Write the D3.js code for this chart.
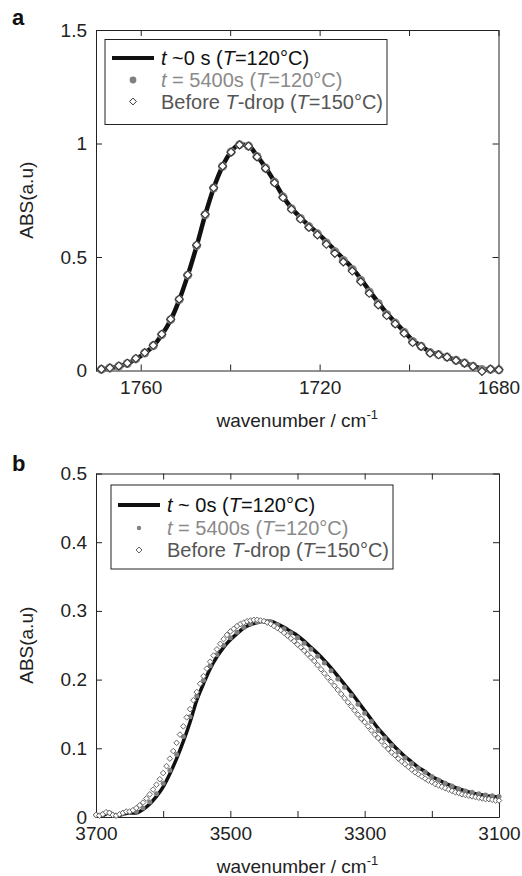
<!DOCTYPE html>
<html>
<head>
<meta charset="utf-8">
<script src="https://cdn.jsdelivr.net/npm/d3@7"></script>
<style>
  body { margin: 0; background: #fff; }
  svg { display: block; font-family: "Liberation Sans", Arial, sans-serif; }
</style>
</head>
<body>
<div id="chart"></div>
<script>
// ---- panel a : C=O band ----
const wnA = [1768.8, 1766.9, 1764.9, 1763.0, 1761.1, 1759.1, 1757.2, 1755.3, 1753.3, 1751.4,
  1749.5, 1747.5, 1745.6, 1743.7, 1741.7, 1739.8, 1737.9, 1735.9, 1734.0, 1732.1,
  1730.1, 1728.2, 1726.3, 1724.3, 1722.4, 1720.5, 1718.5, 1716.6, 1714.7, 1712.7,
  1710.8, 1708.9, 1706.9, 1705.0, 1703.1, 1701.1, 1699.2, 1697.3, 1695.3, 1693.4,
  1691.5, 1689.5, 1687.6, 1685.7, 1683.7, 1681.8, 1679.9];
const absA0 = [0.004, 0.010, 0.018, 0.030, 0.050, 0.076, 0.108, 0.156, 0.222, 0.310,
  0.418, 0.548, 0.684, 0.803, 0.900, 0.964, 0.996, 0.990, 0.945, 0.894,
  0.832, 0.768, 0.716, 0.674, 0.638, 0.606, 0.568, 0.530, 0.492, 0.451,
  0.404, 0.352, 0.300, 0.252, 0.213, 0.172, 0.133, 0.108, 0.082, 0.070,
  0.059, 0.045, 0.033, 0.020, 0.008, 0.004, 0.002];
const absA5400 = [0.005, 0.011, 0.019, 0.031, 0.051, 0.077, 0.109, 0.158, 0.224, 0.312,
  0.420, 0.550, 0.686, 0.804, 0.900, 0.963, 0.995, 0.989, 0.943, 0.892,
  0.830, 0.765, 0.713, 0.670, 0.634, 0.602, 0.562, 0.523, 0.485, 0.445,
  0.398, 0.346, 0.295, 0.247, 0.209, 0.168, 0.128, 0.107, 0.079, 0.070,
  0.059, 0.045, 0.033, 0.019, 0.004, 0.005, 0.003];
const absABefore = [0.006, 0.012, 0.020, 0.032, 0.053, 0.079, 0.111, 0.160, 0.226, 0.314,
  0.421, 0.553, 0.688, 0.805, 0.900, 0.962, 0.994, 0.988, 0.941, 0.890,
  0.827, 0.762, 0.710, 0.667, 0.630, 0.597, 0.556, 0.516, 0.478, 0.438,
  0.391, 0.340, 0.289, 0.242, 0.205, 0.164, 0.123, 0.106, 0.076, 0.069,
  0.059, 0.044, 0.032, 0.018, -0.004, 0.006, 0.003];
const xTicksA = [1760, 1740, 1720, 1700, 1680];
const xLabelsA = [1760, 1720, 1680];
const yTicksA = [0, 0.5, 1, 1.5];

// ---- panel b : O-H band ----
const wnB = [3700, 3690, 3680, 3670, 3660, 3650, 3640, 3630, 3620, 3610,
  3600, 3590, 3580, 3570, 3560, 3550, 3540, 3530, 3520, 3510,
  3500, 3490, 3480, 3470, 3460, 3450, 3440, 3430, 3420, 3410,
  3400, 3390, 3380, 3370, 3360, 3350, 3340, 3330, 3320, 3310,
  3300, 3290, 3280, 3270, 3260, 3250, 3240, 3230, 3220, 3210,
  3200, 3190, 3180, 3170, 3160, 3150, 3140, 3130, 3120, 3110, 3100];
const absB0 = [0.004, 0.002, 0.007, 0.001, 0.004, 0.006, 0.006, 0.011, 0.019, 0.030,
  0.044, 0.063, 0.085, 0.110, 0.138, 0.170, 0.194, 0.216, 0.233, 0.247,
  0.258, 0.267, 0.275, 0.280, 0.283, 0.285, 0.285, 0.281, 0.276, 0.270,
  0.264, 0.256, 0.247, 0.238, 0.228, 0.217, 0.205, 0.193, 0.181, 0.168,
  0.155, 0.142, 0.129, 0.118, 0.107, 0.097, 0.088, 0.080, 0.072, 0.066,
  0.059, 0.054, 0.049, 0.045, 0.041, 0.038, 0.035, 0.033, 0.031, 0.030, 0.029];
const absB5400 = [0.003, 0.004, 0.006, 0.002, 0.006, 0.007, 0.008, 0.013, 0.022, 0.034,
  0.049, 0.068, 0.091, 0.117, 0.146, 0.176, 0.199, 0.220, 0.236, 0.250,
  0.261, 0.269, 0.276, 0.281, 0.284, 0.285, 0.284, 0.280, 0.274, 0.268,
  0.261, 0.253, 0.244, 0.234, 0.224, 0.213, 0.201, 0.189, 0.177, 0.164,
  0.151, 0.139, 0.126, 0.115, 0.104, 0.095, 0.086, 0.078, 0.071, 0.065,
  0.059, 0.054, 0.049, 0.045, 0.041, 0.038, 0.036, 0.034, 0.032, 0.031, 0.030];
const wnBBefore = [3700, 3695, 3690, 3685, 3680, 3675, 3670, 3665, 3660, 3655,
  3650, 3645, 3640, 3635, 3630, 3625, 3620, 3615, 3610, 3605,
  3600, 3595, 3590, 3585, 3580, 3575, 3570, 3565, 3560, 3555,
  3550, 3545, 3540, 3535, 3530, 3525, 3520, 3515, 3510, 3505,
  3500, 3495, 3490, 3485, 3480, 3475, 3470, 3465, 3460, 3455,
  3450, 3445, 3440, 3435, 3430, 3425, 3420, 3415, 3410, 3405,
  3400, 3395, 3390, 3385, 3380, 3375, 3370, 3365, 3360, 3355,
  3350, 3345, 3340, 3335, 3330, 3325, 3320, 3315, 3310, 3305,
  3300, 3295, 3290, 3285, 3280, 3275, 3270, 3265, 3260, 3255,
  3250, 3245, 3240, 3235, 3230, 3225, 3220, 3215, 3210, 3205,
  3200, 3195, 3190, 3185, 3180, 3175, 3170, 3165, 3160, 3155,
  3150, 3145, 3140, 3135, 3130, 3125, 3120, 3115, 3110, 3105, 3100];
const absBBefore = [0.003, 0.002, 0.004, 0.007, 0.006, 0.003, 0.002, 0.004, 0.006, 0.008,
  0.008, 0.010, 0.013, 0.017, 0.021, 0.027, 0.033, 0.040, 0.047, 0.055,
  0.064, 0.074, 0.085, 0.096, 0.108, 0.120, 0.132, 0.145, 0.157, 0.170,
  0.182, 0.194, 0.205, 0.216, 0.226, 0.235, 0.244, 0.252, 0.259, 0.265,
  0.270, 0.274, 0.278, 0.281, 0.283, 0.285, 0.286, 0.287, 0.287, 0.286,
  0.285, 0.283, 0.281, 0.278, 0.275, 0.272, 0.268, 0.264, 0.260, 0.256,
  0.251, 0.247, 0.242, 0.237, 0.232, 0.227, 0.221, 0.215, 0.209, 0.203,
  0.197, 0.191, 0.185, 0.179, 0.173, 0.167, 0.161, 0.155, 0.149, 0.143,
  0.138, 0.132, 0.126, 0.120, 0.115, 0.110, 0.104, 0.099, 0.094, 0.090,
  0.085, 0.081, 0.077, 0.073, 0.069, 0.065, 0.062, 0.059, 0.056, 0.053,
  0.051, 0.048, 0.046, 0.044, 0.042, 0.040, 0.038, 0.036, 0.035, 0.033,
  0.032, 0.031, 0.030, 0.029, 0.028, 0.027, 0.026, 0.026, 0.025, 0.024, 0.024];
const xTicksB = [3700, 3600, 3500, 3400, 3300, 3200, 3100];
const xLabelsB = [3700, 3500, 3300, 3100];
const yTicksB = [0, 0.1, 0.2, 0.3, 0.4, 0.5];

// legend texts, [text, italic?]
const legendA = [
  [['t', 1], [' ~0 s (', 0], ['T', 1], ['=120°C)', 0]],
  [['t', 1], [' = 5400s (', 0], ['T', 1], ['=120°C)', 0]],
  [['Before ', 0], ['T', 1], ['-drop (', 0], ['T', 1], ['=150°C)', 0]],
];
const legendB = [
  [['t', 1], [' ~ 0s (', 0], ['T', 1], ['=120°C)', 0]],
  [['t', 1], [' = 5400s (', 0], ['T', 1], ['=120°C)', 0]],
  [['Before ', 0], ['T', 1], ['-drop (', 0], ['T', 1], ['=150°C)', 0]],
];

const W = 522, H = 876;
const FS = 19;

const svg = d3.select('#chart').append('svg').attr('width', W).attr('height', H);

const diamond = (s) => `M0,${-s}L${s},0L0,${s}L${-s},0Z`;

const drawPanel = (opt) => {
  const g = svg.append('g');
  const x = d3.scaleLinear().domain(opt.xDomain).range([opt.left, opt.right]);
  const y = d3.scaleLinear().domain(opt.yDomain).range([opt.bottom, opt.top]);

  // axes, ticks pointing inward
  const fmtX = (d) => (opt.xLabels.indexOf(d) > -1 ? d : '');
  const axes = [
    [d3.axisBottom(x).tickValues(opt.xTicks).tickFormat(fmtX), opt.bottom, 'x'],
    [d3.axisTop(x).tickValues(opt.xTicks).tickFormat(''), opt.top, 'x'],
    [d3.axisLeft(y).tickValues(opt.yTicks).tickFormat((d) => String(d)), opt.left, 'y'],
    [d3.axisRight(y).tickValues(opt.yTicks).tickFormat(''), opt.right, 'y'],
  ];
  axes.forEach(([ax, pos, k]) => {
    const a = g
      .append('g')
      .attr('transform', k === 'x' ? `translate(0,${pos})` : `translate(${pos},0)`)
      .call(ax.tickSizeInner(-6).tickSizeOuter(0).tickPadding(k === 'x' ? 10 : 9));
    a.select('.domain').attr('stroke', '#222');
    a.selectAll('.tick line').attr('stroke', '#222');
    a.selectAll('.tick text')
      .attr('font-size', FS)
      .attr('font-family', '"Liberation Sans", Arial, sans-serif')
      .attr('fill', '#222');
  });

  // t ~ 0 s line
  g.append('path')
    .datum(opt.wnLine.map((w, i) => [w, opt.line[i]]))
    .attr('fill', 'none')
    .attr('stroke', '#111')
    .attr('stroke-width', opt.lineW)
    .attr('stroke-linejoin', 'round')
    .attr('d', d3.line().x((d) => x(d[0])).y((d) => y(d[1])).curve(d3.curveMonotoneX));

  // t = 5400 s dots
  g.append('g')
    .selectAll('circle')
    .data(opt.wnDots.map((w, i) => [w, opt.dots[i]]))
    .enter()
    .append('circle')
    .attr('cx', (d) => x(d[0]))
    .attr('cy', (d) => y(d[1]))
    .attr('r', opt.dotR)
    .attr('fill', '#808080');

  // before T-drop diamonds
  g.append('g')
    .selectAll('path')
    .data(opt.wnDia.map((w, i) => [w, opt.dia[i]]))
    .enter()
    .append('path')
    .attr('transform', (d) => `translate(${x(d[0])},${y(d[1])})`)
    .attr('d', diamond(opt.diaS))
    .attr('fill', '#fff')
    .attr('stroke', opt.diaStroke)
    .attr('stroke-width', opt.diaW);

  // legend
  const lg = g.append('g');
  const L = opt.legend;
  lg.append('rect')
    .attr('x', L.x)
    .attr('y', L.y)
    .attr('width', L.w)
    .attr('height', L.h)
    .attr('fill', '#fff')
    .attr('stroke', '#222')
    .attr('stroke-width', 1);
  const colors = ['#111', '#8a8a8a', '#555'];
  L.rows.forEach((cy, i) => {
    if (i === 0) {
      lg.append('line')
        .attr('x1', L.x + 7).attr('x2', L.x + 49)
        .attr('y1', cy).attr('y2', cy)
        .attr('stroke', '#111').attr('stroke-width', 4);
    } else if (i === 1) {
      lg.append('circle').attr('cx', L.x + 28).attr('cy', cy).attr('r', opt.legDotR).attr('fill', '#808080');
    } else {
      lg.append('path')
        .attr('transform', `translate(${L.x + 28},${cy})`)
        .attr('d', diamond(opt.legDiaS))
        .attr('fill', '#fff')
        .attr('stroke', opt.diaStroke)
        .attr('stroke-width', 1);
    }
    const t = lg.append('text')
      .attr('x', L.x + 56)
      .attr('y', cy + 7)
      .attr('font-size', 20)
      .attr('fill', colors[i]);
    opt.legendText[i].forEach(([s, it]) => {
      t.append('tspan').attr('font-style', it ? 'italic' : 'normal').text(s);
    });
  });

  // axis titles
  const xl = g.append('text')
    .attr('x', (opt.left + opt.right) / 2)
    .attr('y', opt.bottom + 56)
    .attr('text-anchor', 'middle')
    .attr('font-size', FS)
    .attr('fill', '#222');
  xl.append('tspan').text('wavenumber / cm');
  xl.append('tspan').attr('font-size', 13).attr('dy', -8).text('-1');

  g.append('text')
    .attr('transform', `translate(33,${(opt.top + opt.bottom) / 2}) rotate(-90)`)
    .attr('text-anchor', 'middle')
    .attr('font-size', FS)
    .attr('fill', '#222')
    .text('ABS(a.u)');

  g.append('text')
    .attr('x', 12)
    .attr('y', opt.letterY)
    .attr('font-size', 22)
    .attr('font-weight', 'bold')
    .attr('fill', '#111')
    .text(opt.letter);
};

drawPanel({
  letter: 'a', letterY: 25,
  left: 96, right: 498.5, top: 30, bottom: 370.5,
  xDomain: [1770, 1680], yDomain: [0, 1.5],
  xTicks: xTicksA, xLabels: xLabelsA, yTicks: yTicksA,
  wnLine: wnA, line: absA0, lineW: 4.5,
  wnDots: wnA, dots: absA5400, dotR: 4.5, legDotR: 3.4,
  wnDia: wnA, dia: absABefore, diaS: 4, diaStroke: '#333', diaW: 1.1, legDiaS: 3.4,
  legend: { x: 105, y: 39.5, w: 282, h: 85, rows: [58, 80, 101.5] },
  legendText: legendA,
});

drawPanel({
  letter: 'b', letterY: 471,
  left: 96, right: 499, top: 473.5, bottom: 817,
  xDomain: [3700, 3100], yDomain: [0, 0.5],
  xTicks: xTicksB, xLabels: xLabelsB, yTicks: yTicksB,
  wnLine: wnB, line: absB0, lineW: 3.5,
  wnDots: wnB, dots: absB5400, dotR: 2.5, legDotR: 2.2,
  wnDia: wnBBefore, dia: absBBefore, diaS: 2.8, diaStroke: '#666', diaW: 1, legDiaS: 3,
  legend: { x: 111, y: 485, w: 282, h: 84, rows: [505, 528, 550] },
  legendText: legendB,
});
</script>
</body>
</html>
